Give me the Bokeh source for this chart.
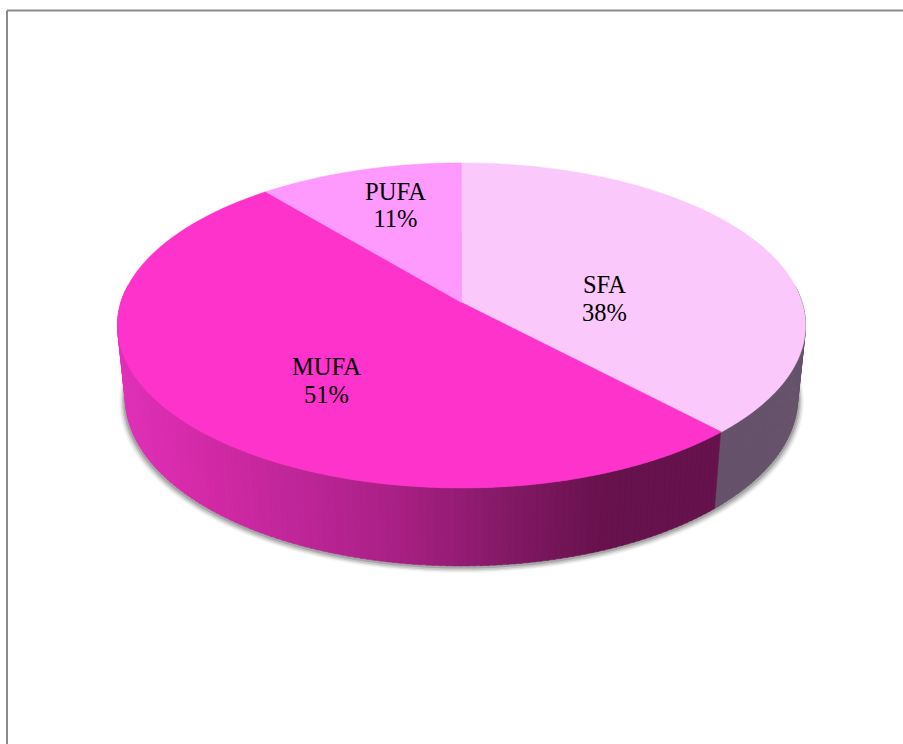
import numpy as np
from bokeh.plotting import figure
from bokeh.models import Range1d
from bokeh.core.properties import value
from bokeh.embed import file_html
from bokeh.resources import INLINE

categories = ["SFA", "MUFA", "PUFA"]
percents = [38, 51, 11]
top_colors = ["#FBC8FB", "#FD33CB", "#FE99FD"]
label_px = [(604, 284, 312), (326, 366, 394), (395, 191, 218)]

FW, FH = 903, 744

# perspective model of the disc
CX, CY = 461.0, 302.0
A, B, K = 340.6, 159.3, 0.1412
SX, SY, Y0 = 0.977, 1.032, 374.0


def top_xy(t):
    X, Y = np.sin(t), np.cos(t)
    w = 1 + K * Y
    return A * X / w, B * Y / w


def upper(t):
    dx, dy = top_xy(t)
    return CX + dx, CY - dy


def lower(t, grow=0.0, dy0=0.0):
    dx, dy = top_xy(t)
    return CX + (SX + grow) * dx, Y0 + dy0 + (SY + grow) * (-dy)


p = figure(width=FW, height=FH, x_range=Range1d(0, FW), y_range=Range1d(FH, 0),
           output_backend="svg", toolbar_location=None, min_border=0,
           background_fill_color="white", border_fill_color="white")
p.axis.visible = False
p.grid.visible = False
p.outline_line_color = None

# frame (open on the right and at the bottom)
p.line([6.5, 6.5], [FH, 10], line_color="#8a8a8a", line_width=2)
p.line([6.5, FW], [10, 10], line_color="#8a8a8a", line_width=2)

fracs = np.cumsum([0] + percents) / sum(percents) * 2 * np.pi
ts = np.linspace(0, 2 * np.pi, 361)

# soft shadow
for grow, dy0, alpha in [(0.018, 3.5, 0.06), (0.014, 3.0, 0.10), (0.010, 2.5, 0.16), (0.006, 1.5, 0.25)]:
    x, y = lower(ts, grow, dy0)
    p.patch(x, y, fill_color="#444444", fill_alpha=alpha, line_color=None)

# side wall
grad_x = [118, 200, 300, 400, 500, 600, 640, 720]
grad_r = [0xE0, 0xD4, 0xBE, 0xA8, 0x86, 0x68, 0x66, 0x66]
grad_g = [0x30, 0x2A, 0x26, 0x20, 0x1A, 0x12, 0x12, 0x12]
grad_b = [0xB8, 0xA8, 0x98, 0x84, 0x68, 0x4E, 0x4C, 0x4C]
steps = np.radians(np.arange(84, 277, 1.0))
for a, b in zip(steps[:-1], steps[1:]):
    xu0, yu0 = upper(a)
    xu1, yu1 = upper(b + 0.004)
    xl0, yl0 = lower(a)
    xl1, yl1 = lower(b + 0.004)
    mid = (a + b) / 2
    xm = (xu0 + xu1) / 2
    if mid < fracs[1]:
        col = "#66526A"
    else:
        col = "#%02x%02x%02x" % (int(np.interp(xm, grad_x, grad_r)),
                                 int(np.interp(xm, grad_x, grad_g)),
                                 int(np.interp(xm, grad_x, grad_b)))
    p.patch([xu0, xu1, xl1, xl0], [yu0, yu1, yl1, yl0], fill_color=col, line_color=col, line_width=0.5)

# top face
for i, cat in enumerate(categories):
    t = np.linspace(fracs[i], fracs[i + 1], 180)
    x, y = upper(t)
    p.patch(np.r_[CX, x], np.r_[CY, y], fill_color=top_colors[i], line_color=top_colors[i], line_width=0.5)

# labels
for cat, pct, (lx, ly1, ly2) in zip(categories, percents, label_px):
    for yy, txt in ((ly1, cat), (ly2, f"{pct}%")):
        p.text([lx], [yy], text=[txt], text_font=value("Liberation Serif"), text_font_size="24.5px",
               text_color="black", text_align="center", text_baseline="middle")

open("out.html", "w").write(file_html(p, INLINE))
